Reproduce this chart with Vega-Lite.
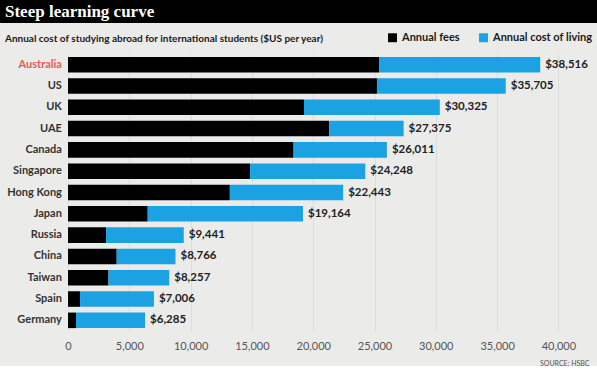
{
  "$schema": "https://vega.github.io/schema/vega-lite/v6.json",
  "background": "#ebebe9",
  "padding": 0,
  "spacing": 31,
  "bounds": "flush",
  "config": {"view": {"stroke": null}, "font": "Lato"},
  "vconcat": [
    {
      "width": 597,
      "height": 23,
      "view": {"fill": "#000000", "stroke": null},
      "data": {"values": [{"t": "Steep learning curve"}]},
      "mark": {"type": "text", "align": "left", "baseline": "alphabetic", "font": "Liberation Serif", "fontSize": 17, "fontWeight": "bold", "color": "#ffffff"},
      "encoding": {"text": {"field": "t"}, "x": {"value": 5}, "y": {"value": 17}}
    },
    {
      "width": 597,
      "height": 277,
      "title": {
        "text": "Annual cost of studying abroad for international students ($US per year)",
        "anchor": "start",
        "frame": "group",
        "orient": "top",
        "offset": 2,
        "baseline": "alphabetic",
        "dx": 5,
        "font": "Lato",
        "fontSize": 10,
        "fontWeight": "bold",
        "color": "#1a1a1a"
      },
      "data": {
        "values": [
          {"country": "Australia", "type": "Annual fees", "value": 25400},
          {"country": "Australia", "type": "Annual cost of living", "value": 13116},
          {"country": "US", "type": "Annual fees", "value": 25200},
          {"country": "US", "type": "Annual cost of living", "value": 10505},
          {"country": "UK", "type": "Annual fees", "value": 19250},
          {"country": "UK", "type": "Annual cost of living", "value": 11075},
          {"country": "UAE", "type": "Annual fees", "value": 21300},
          {"country": "UAE", "type": "Annual cost of living", "value": 6075},
          {"country": "Canada", "type": "Annual fees", "value": 18400},
          {"country": "Canada", "type": "Annual cost of living", "value": 7611},
          {"country": "Singapore", "type": "Annual fees", "value": 14850},
          {"country": "Singapore", "type": "Annual cost of living", "value": 9398},
          {"country": "Hong Kong", "type": "Annual fees", "value": 13200},
          {"country": "Hong Kong", "type": "Annual cost of living", "value": 9243},
          {"country": "Japan", "type": "Annual fees", "value": 6500},
          {"country": "Japan", "type": "Annual cost of living", "value": 12664},
          {"country": "Russia", "type": "Annual fees", "value": 3100},
          {"country": "Russia", "type": "Annual cost of living", "value": 6341},
          {"country": "China", "type": "Annual fees", "value": 3970},
          {"country": "China", "type": "Annual cost of living", "value": 4796},
          {"country": "Taiwan", "type": "Annual fees", "value": 3300},
          {"country": "Taiwan", "type": "Annual cost of living", "value": 4957},
          {"country": "Spain", "type": "Annual fees", "value": 980},
          {"country": "Spain", "type": "Annual cost of living", "value": 6026},
          {"country": "Germany", "type": "Annual fees", "value": 650},
          {"country": "Germany", "type": "Annual cost of living", "value": 5635}
        ]
      },
      "layer": [
        {
          "mark": {"type": "bar"},
          "encoding": {
            "y": {
              "field": "country",
              "type": "nominal",
              "sort": ["Australia", "US", "UK", "UAE", "Canada", "Singapore", "Hong Kong", "Japan", "Russia", "China", "Taiwan", "Spain", "Germany"],
              "axis": null,
              "scale": {"paddingInner": 0.27, "paddingOuter": 0.135}
            },
            "x": {
              "field": "value",
              "type": "quantitative",
              "stack": "zero",
              "scale": {"domain": [-5550, 43150], "nice": false, "zero": false},
              "axis": {
                "values": [0, 5000, 10000, 15000, 20000, 25000, 30000, 35000, 40000],
                "format": ",.0f",
                "domain": false,
                "ticks": false,
                "grid": true,
                "gridColor": "#dcdcda",
                "gridWidth": 1,
                "labelFont": "Lato",
                "labelFontSize": 11,
                "labelColor": "#555555",
                "labelPadding": 9,
                "title": "SOURCE: HSBC",
                "titleFont": "Lato",
                "titleFontSize": 7,
                "titleFontWeight": "normal",
                "titleColor": "#555555",
                "titleAnchor": "end",
                "titleX": 589,
                "titleAlign": "right",
                "titlePadding": 8
              }
            },
            "color": {
              "field": "type",
              "type": "nominal",
              "scale": {"domain": ["Annual fees", "Annual cost of living"], "range": ["#000000", "#1ca2e3"]},
              "legend": {
                "orient": "none",
                "legendX": 387,
                "legendY": 32,
                "direction": "horizontal",
                "title": null,
                "symbolType": "square",
                "symbolSize": 80,
                "symbolStrokeWidth": 0,
                "symbolOpacity": 1,
                "labelFont": "Lato",
                "labelFontSize": 11,
                "labelFontWeight": "bold",
                "labelColor": "#1a1a1a",
                "labelOffset": 4,
                "columnPadding": 18
              }
            },
            "order": {"field": "type", "sort": "descending"}
          }
        },
        {
          "transform": [
            {"aggregate": [{"op": "sum", "field": "value", "as": "total"}], "groupby": ["country"]}
          ],
          "mark": {"type": "text", "align": "left", "baseline": "middle", "dx": 5, "font": "Lato", "fontSize": 11.5, "fontWeight": "bold", "color": "#222222"},
          "encoding": {
            "y": {
              "field": "country",
              "type": "nominal",
              "sort": ["Australia", "US", "UK", "UAE", "Canada", "Singapore", "Hong Kong", "Japan", "Russia", "China", "Taiwan", "Spain", "Germany"]
            },
            "x": {
              "field": "total",
              "type": "quantitative",
              "scale": {"domain": [-5550, 43150], "nice": false, "zero": false},
              "axis": {
                "values": [0, 5000, 10000, 15000, 20000, 25000, 30000, 35000, 40000],
                "format": ",.0f",
                "domain": false,
                "ticks": false,
                "grid": true,
                "gridColor": "#dcdcda",
                "gridWidth": 1,
                "labelFont": "Lato",
                "labelFontSize": 11,
                "labelColor": "#555555",
                "labelPadding": 9,
                "title": "SOURCE: HSBC",
                "titleFont": "Lato",
                "titleFontSize": 7,
                "titleFontWeight": "normal",
                "titleColor": "#555555",
                "titleAnchor": "end",
                "titleX": 589,
                "titleAlign": "right",
                "titlePadding": 8
              }
            },
            "text": {"field": "total", "type": "quantitative", "format": "$,.0f"}
          }
        },
        {
          "transform": [{"filter": "datum.type === 'Annual fees'"}],
          "mark": {"type": "text", "align": "right", "baseline": "middle", "font": "Lato", "fontSize": 11, "fontWeight": "bold"},
          "encoding": {
            "y": {
              "field": "country",
              "type": "nominal",
              "sort": ["Australia", "US", "UK", "UAE", "Canada", "Singapore", "Hong Kong", "Japan", "Russia", "China", "Taiwan", "Spain", "Germany"]
            },
            "x": {
              "datum": -500,
              "type": "quantitative",
              "scale": {"domain": [-5550, 43150], "nice": false, "zero": false},
              "axis": {
                "values": [0, 5000, 10000, 15000, 20000, 25000, 30000, 35000, 40000],
                "format": ",.0f",
                "domain": false,
                "ticks": false,
                "grid": true,
                "gridColor": "#dcdcda",
                "gridWidth": 1,
                "labelFont": "Lato",
                "labelFontSize": 11,
                "labelColor": "#555555",
                "labelPadding": 9,
                "title": "SOURCE: HSBC",
                "titleFont": "Lato",
                "titleFontSize": 7,
                "titleFontWeight": "normal",
                "titleColor": "#555555",
                "titleAnchor": "end",
                "titleX": 589,
                "titleAlign": "right",
                "titlePadding": 8
              }
            },
            "text": {"field": "country"},
            "color": {"condition": {"test": "datum.country === 'Australia'", "value": "#e35d4f"}, "value": "#333333"}
          }
        }
      ]
    }
  ]
}
